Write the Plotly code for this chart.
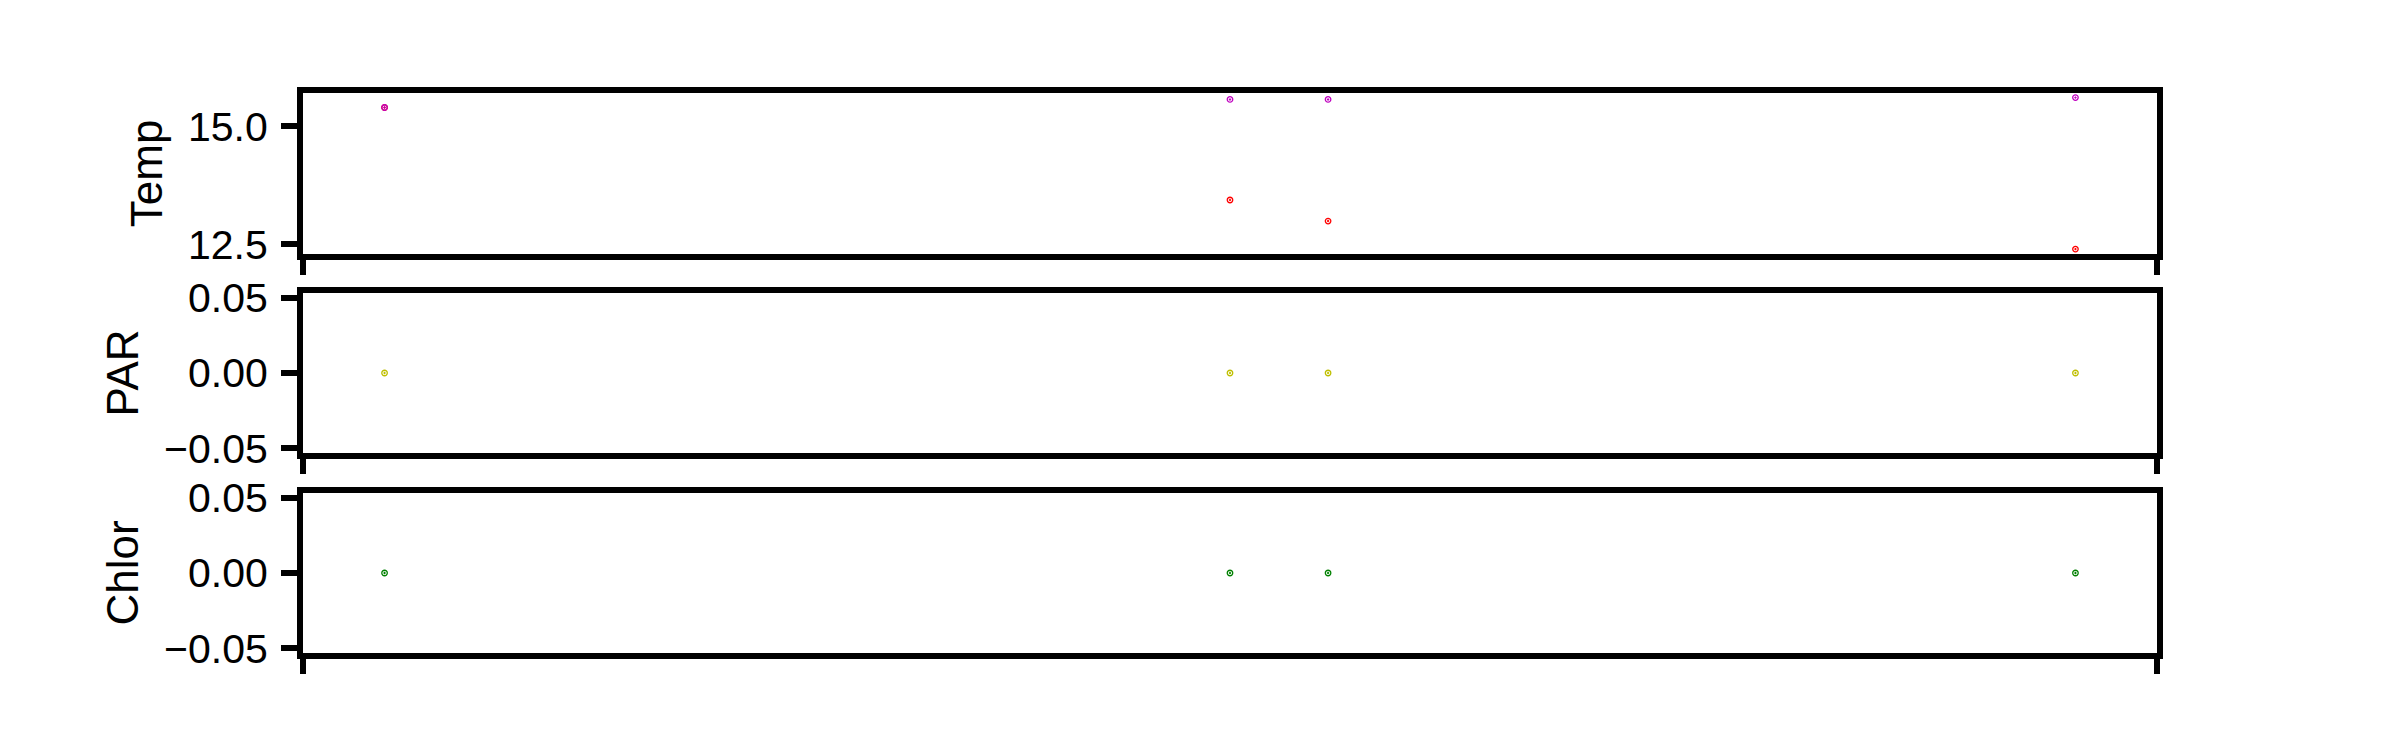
import plotly.graph_objects as go

# ---- data ----
x_vals = [0.0, 50.0, 55.8, 100.0]
temp_red = [15.40, 13.44, 12.995, 12.40]
temp_magenta = [15.40, 15.57, 15.57, 15.61]
par_vals = [0.0, 0.0, 0.0, 0.0]
chlor_vals = [0.0, 0.0, 0.0, 0.0]

temp_ticks = [12.5, 15.0]
zero_ticks = [-0.05, 0.0, 0.05]

W, H = 2400, 750
OFF = 8.0      # page body margin
LW = 5.5
HALF = LW / 2

# axis ranges at the spine centres (matplotlib style), shrunk to the inner edge
def inner_range(lo, hi, span_px):
    d = (hi - lo) * HALF / span_px
    return [lo + d, hi - d]

x_range = inner_range(-5.0, 105.0, 1860)
temp_range = inner_range(12.2395, 15.7705, 166.7)
zero_range = inner_range(-0.055, 0.055, 166)

def dom_y(top, bottom):
    t = top + HALF - OFF
    b = bottom - HALF - OFF
    return [1 - b / H, 1 - t / H]

x_dom = [(300 + HALF - OFF) / W, (2160 - HALF - OFF) / W]
dom_temp = dom_y(90, 256.7)
dom_par = dom_y(290, 456)
dom_chl = dom_y(490, 656)

FONT = "Liberation Sans, Arial, sans-serif"

fig = go.Figure()

def add(y, color, xa, ya, name):
    fig.add_trace(go.Scatter(
        x=x_vals, y=y, mode="markers", name=name, xaxis=xa, yaxis=ya,
        marker=dict(symbol="circle-open-dot", size=5.5, color=color,
                    line=dict(color=color, width=1.3)),
        showlegend=False, hoverinfo="x+y"))

add(temp_red, "#ff0000", "x", "y", "Temp")
add(temp_magenta, "#bf00bf", "x", "y", "Temp")
add(par_vals, "#bfbf00", "x2", "y2", "PAR")
add(chlor_vals, "#008000", "x3", "y3", "Chlor")

def xaxis(anchor):
    return dict(domain=x_dom, anchor=anchor, range=x_range, showgrid=False, zeroline=False,
                showline=True, linecolor="black", linewidth=LW, mirror=True,
                ticks="outside", ticklen=15, tickwidth=LW, tickcolor="black",
                tickvals=x_range, showticklabels=False, automargin=False)

def yaxis(anchor, dom, rng, tickvals, fmt, title):
    return dict(domain=dom, anchor=anchor, range=rng, showgrid=False, zeroline=False,
                showline=True, linecolor="black", linewidth=LW, mirror=True,
                ticks="outside", ticklen=16, tickwidth=LW, tickcolor="black",
                tickvals=tickvals, tickformat=fmt, ticklabelstandoff=5,
                automargin=False,
                tickfont=dict(family=FONT, size=41, color="black"),
                title=dict(text=title, font=dict(family=FONT, size=44, color="black"),
                           standoff=14))

fig.update_layout(
    width=W, height=H, paper_bgcolor="white", plot_bgcolor="white",
    margin=dict(l=0, r=0, t=0, b=0, autoexpand=False),
    xaxis=xaxis("y"), xaxis2=xaxis("y2"), xaxis3=xaxis("y3"),
    yaxis=yaxis("x", dom_temp, temp_range, temp_ticks, ".1f", "Temp"),
    yaxis2=yaxis("x2", dom_par, zero_range, zero_ticks, ".2f", "PAR"),
    yaxis3=yaxis("x3", dom_chl, zero_range, zero_ticks, ".2f", "Chlor"),
)

fig.write_html("out.html")
